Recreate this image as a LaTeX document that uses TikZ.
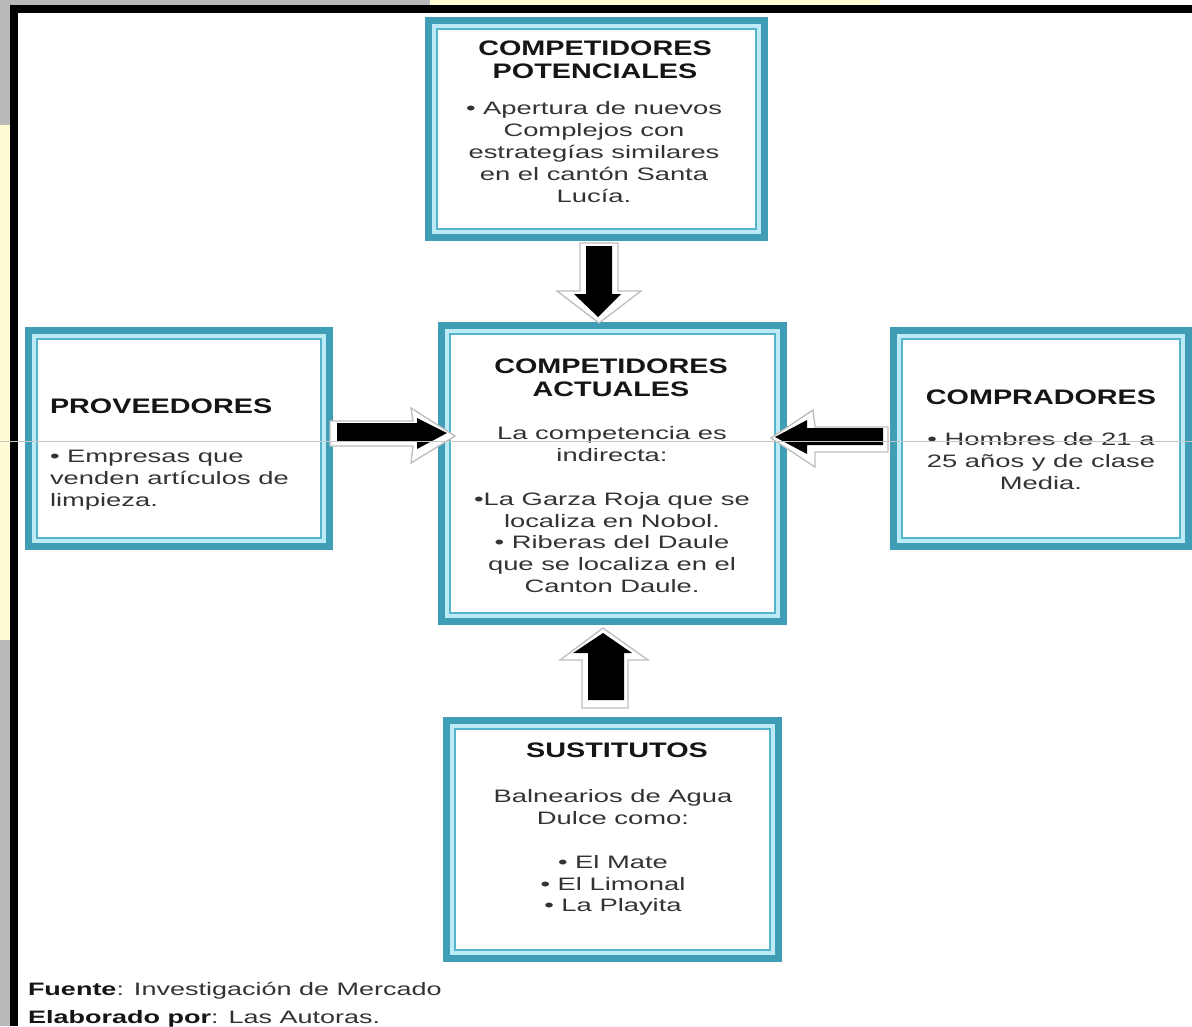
\documentclass[tikz,border=0pt]{standalone}
\usepackage{fontspec}
\setmainfont{Liberation Sans}
\newfontfamily\bodyfont{Liberation Sans}[FakeStretch=1.52]
\newfontfamily\titlefont{Liberation Sans}[FakeStretch=1.37]
\newfontfamily\footfont{Liberation Sans}[FakeStretch=1.5]
\usetikzlibrary{calc}
\definecolor{tealout}{HTML}{3F9DB5}
\definecolor{tealin}{HTML}{55B4CC}
\definecolor{tealgap}{HTML}{BDEBF5}
\definecolor{txtc}{HTML}{333333}
\definecolor{ttlc}{HTML}{151515}
\definecolor{wmgray}{HTML}{B9B9B9}
\definecolor{wmyellow}{HTML}{FFFBD2}
\definecolor{arrline}{HTML}{BDBDBD}
\begin{document}
\begin{tikzpicture}[x=1pt,y=-1pt,
  boxnode/.style={rectangle, inner sep=0pt, outer sep=0pt, fill=white},
  titletext/.style={inner sep=0pt, outer sep=0pt, text=ttlc, align=center,
    font=\titlefont\bfseries\fontsize{21}{23}\selectfont},
  bodytext/.style={inner sep=0pt, outer sep=0pt, text=txtc, align=center,
    font=\bodyfont\fontsize{18}{21.8}\selectfont},
  foottext/.style={inner sep=0pt, outer sep=0pt, text=txtc,
    font=\footfont\fontsize{18}{21.8}\selectfont},
  arrout/.style={fill=white, draw=arrline, line width=1.3pt, line join=miter},
  arrin/.style={fill=black}
]
\useasboundingbox (0,0) rectangle (1192,1026);
% background
\fill[white] (0,0) rectangle (1192,1026);
\fill[wmgray] (0,0) rectangle (10,1026);
\fill[wmyellow] (0,125) rectangle (10,640);
\fill[wmgray] (10,0) rectangle (430,5);
\fill[wmyellow] (430,0) rectangle (880,5);
% black frame
\fill[black] (10,5) rectangle (1192,13);
\fill[black] (10,5) rectangle (18,1026);

% boxes
\node[boxnode, minimum width=343pt, minimum height=224pt] (cp) at (596.5,129) {};
\node[boxnode, minimum width=349pt, minimum height=303pt] (ca) at (612.5,473.5) {};
\node[boxnode, minimum width=308pt, minimum height=223pt] (pr) at (179,438.5) {};
\node[boxnode, minimum width=302pt, minimum height=223pt] (co) at (1041,438.5) {};
\node[boxnode, minimum width=339pt, minimum height=245pt] (su) at (612.5,839.5) {};
\foreach \n in {cp,ca,pr,co,su}{
  \draw[tealout, line width=7pt] ($(\n.north west)+(3.5,3.5)$) rectangle ($(\n.south east)+(-3.5,-3.5)$);
  \draw[tealgap, line width=4pt] ($(\n.north west)+(9,9)$) rectangle ($(\n.south east)+(-9,-9)$);
  \draw[tealin, line width=2.5pt] ($(\n.north west)+(12,12)$) rectangle ($(\n.south east)+(-12,-12)$);
}

% block arrows
% down: potenciales -> actuales
\draw[arrout] (580,243) -- (618,243) -- (618,291) -- (641,291) -- (599,323) -- (557,291) -- (580,291) -- cycle;
\fill[arrin] (586,246) -- (612,246) -- (612,294) -- (621,294) -- (598,317) -- (574,294) -- (586,294) -- cycle;
% right: proveedores -> actuales
\draw[arrout] (330,421) -- (413,421) -- (411,408) -- (455,436) -- (411,463) -- (413,446) -- (330,446) -- cycle;
\fill[arrin] (337,423) -- (417,423) -- (417,418) -- (447,433) -- (417,449) -- (417,441) -- (337,441) -- cycle;
% left: compradores -> actuales
\draw[arrout] (888,427) -- (815,427) -- (813,410) -- (771,438) -- (815,467) -- (815,452) -- (888,452) -- cycle;
\fill[arrin] (883,428) -- (807,428) -- (807,420) -- (775,437) -- (807,454) -- (807,445) -- (883,445) -- cycle;
% up: sustitutos -> actuales
\draw[arrout] (582,708) -- (628,708) -- (628,660) -- (648,660) -- (603,628) -- (560,660) -- (582,660) -- cycle;
\fill[arrin] (588,700) -- (624,700) -- (624,653) -- (632,653) -- (603,633) -- (573,653) -- (588,653) -- cycle;

% texts
\node[titletext, anchor=north] (cpt) at (595,38.9) {\strut COMPETIDORES\\POTENCIALES};
\node[bodytext, anchor=north] (cpb) at (594,99.6) {\strut • Apertura de nuevos\\Complejos con\\estrategías similares\\en el cantón Santa\\Lucía.};

\node[titletext, anchor=north] (cat) at (611,356.9) {\strut COMPETIDORES\\ACTUALES};
\node[bodytext, anchor=north] (cab) at (612,424.7) {\strut La competencia es\\indirecta:\\[21.8pt]•La Garza Roja que se\\localiza en Nobol.\\• Riberas del Daule\\que se localiza en el\\Canton Daule.};

\node[titletext, anchor=base west] (prt) at (50,413) {PROVEEDORES};
\node[bodytext, align=left, anchor=north west] (prb) at (50,447.7) {\strut • Empresas que\\venden artículos de\\limpieza.};

\node[titletext, anchor=base] (cot) at (1041,404) {COMPRADORES};
\node[bodytext, anchor=north] (cob) at (1041,430.7) {\strut • Hombres de 21 a\\25 años y de clase\\Media.};

\node[titletext, anchor=base] (sut) at (617,757) {SUSTITUTOS};
\node[bodytext, anchor=north] (sub) at (613,787.7) {\strut Balnearios de Agua\\Dulce como:\\[21.8pt]• El Mate\\• El Limonal\\• La Playita};

\node[foottext, anchor=base west] (fuente) at (28,995) {{\bfseries\color{ttlc}Fuente}: Investigación de Mercado};
\node[foottext, anchor=base west] (elab) at (28,1023) {{\bfseries\color{ttlc}Elaborado por}: Las Autoras.};

% scan artifact line
\draw[gray!45, line width=0.6pt] (0,441.5) -- (1192,441.5);
\end{tikzpicture}
\end{document}
